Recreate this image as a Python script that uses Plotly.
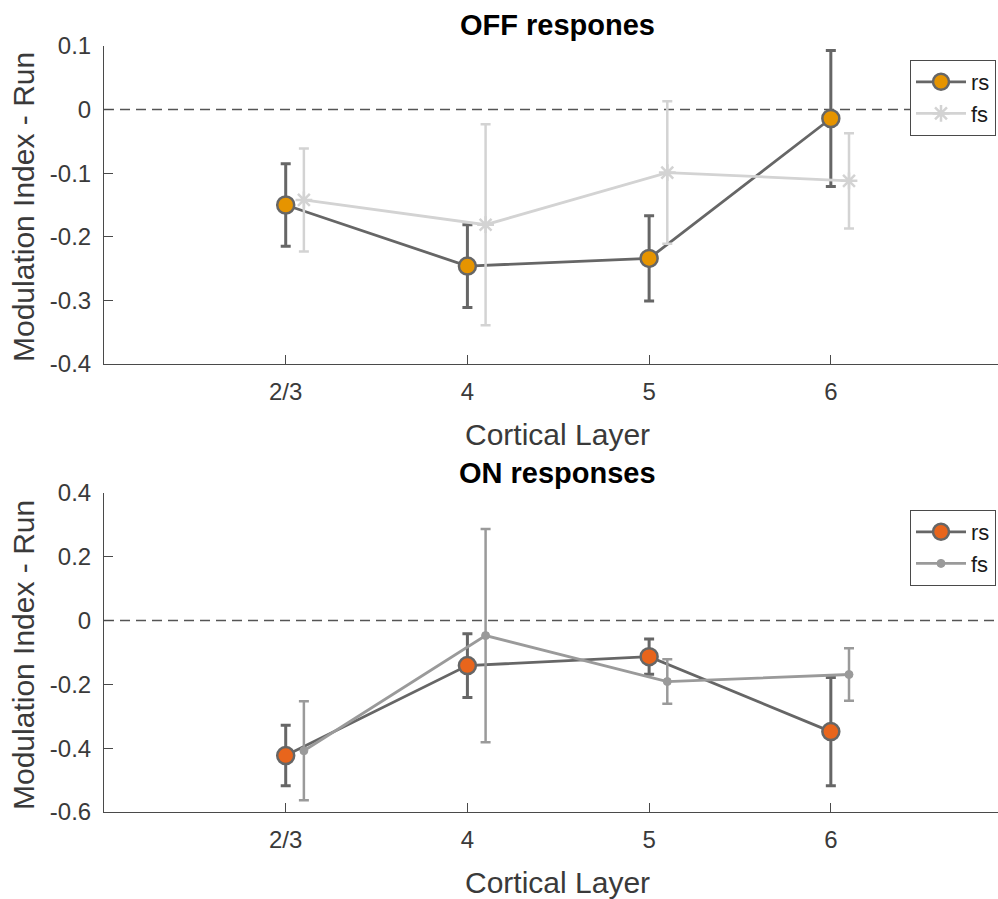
import plotly.graph_objects as go

# Cortical layers (x positions 1..4); fs points are nudged right by 0.1
layers = ["2/3", "4", "5", "6"]
layer_pos = [1, 2, 3, 4]
fs_offset = 0.1

# OFF responses
off_rs_mean = [-0.150, -0.246, -0.234, -0.014]
off_rs_err = [0.065, 0.065, 0.067, 0.107]
off_fs_mean = [-0.142, -0.181, -0.099, -0.112]
off_fs_err = [0.081, 0.158, 0.112, 0.075]

# ON responses
on_rs_mean = [-0.423, -0.141, -0.113, -0.348]
on_rs_err = [0.095, 0.100, 0.055, 0.170]
on_fs_mean = [-0.408, -0.047, -0.191, -0.169]
on_fs_err = [0.155, 0.334, 0.070, 0.082]

off_yticks = [0.1, 0, -0.1, -0.2, -0.3, -0.4]
off_yticklabels = ["0.1", "0", "-0.1", "-0.2", "-0.3", "-0.4"]
on_yticks = [0.4, 0.2, 0, -0.2, -0.4, -0.6]
on_yticklabels = ["0.4", "0.2", "0", "-0.2", "-0.4", "-0.6"]

W, H = 998, 899
L = 104
FONT = "Liberation Sans, Arial, sans-serif"
TXT = "#3a3a3a"
RS_LINE = "#666666"
OFF_RS_FACE = "#E69400"
ON_RS_FACE = "#E8651C"
OFF_FS = "#D3D3D3"
ON_FS = "#9A9A9A"


def py(p):
    """pixel row -> paper fraction"""
    return 1 - p / H


def px(p):
    """pixel column -> paper fraction"""
    return (p - L) / (W - L)


fs_pos = [p + fs_offset for p in layer_pos]

fig = go.Figure()

# --- OFF panel ---
fig.add_trace(go.Scatter(
    x=layer_pos, y=off_rs_mean, name="rs", legend="legend",
    xaxis="x", yaxis="y",
    mode="lines+markers",
    line=dict(color=RS_LINE, width=2.8),
    marker=dict(symbol="circle", size=17, color=OFF_RS_FACE,
                line=dict(color=RS_LINE, width=2.5)),
    error_y=dict(type="data", array=off_rs_err, color=RS_LINE,
                 thickness=3, width=5),
))
fig.add_trace(go.Scatter(
    x=fs_pos, y=off_fs_mean, name="fs", legend="legend",
    xaxis="x", yaxis="y",
    mode="lines+markers",
    line=dict(color=OFF_FS, width=2.8),
    marker=dict(symbol="asterisk-open", size=14,
                line=dict(color=OFF_FS, width=2.5)),
    error_y=dict(type="data", array=off_fs_err, color=OFF_FS,
                 thickness=2.5, width=5),
))

# --- ON panel ---
fig.add_trace(go.Scatter(
    x=layer_pos, y=on_rs_mean, name="rs", legend="legend2",
    xaxis="x2", yaxis="y2",
    mode="lines+markers",
    line=dict(color=RS_LINE, width=2.8),
    marker=dict(symbol="circle", size=17, color=ON_RS_FACE,
                line=dict(color=RS_LINE, width=2.5)),
    error_y=dict(type="data", array=on_rs_err, color=RS_LINE,
                 thickness=3, width=5),
))
fig.add_trace(go.Scatter(
    x=fs_pos, y=on_fs_mean, name="fs", legend="legend2",
    xaxis="x2", yaxis="y2",
    mode="lines+markers",
    line=dict(color=ON_FS, width=2.8),
    marker=dict(symbol="circle", size=8, color=ON_FS,
                line=dict(color=ON_FS, width=1)),
    error_y=dict(type="data", array=on_fs_err, color=ON_FS,
                 thickness=2.5, width=5),
))

XRANGE = [0, 4.92]
axis_common = dict(
    showline=True, linecolor="#4a4a4a", linewidth=1,
    ticks="inside", ticklen=9, tickcolor="#4a4a4a", tickwidth=1,
    showgrid=False, zeroline=False, automargin=False,
    tickfont=dict(family=FONT, size=24, color=TXT),
)

legend_common = dict(
    xanchor="left", yanchor="top",
    bgcolor="white", bordercolor="#4a4a4a", borderwidth=1,
    font=dict(family=FONT, size=22, color="#1a1a1a"),
    itemwidth=50, tracegroupgap=0,
)

ZERO_LINE = dict(color="#555555", width=1.5, dash="10px,6px")

fig.update_layout(
    width=W, height=H,
    margin=dict(l=L, r=0, t=0, b=0, autoexpand=False),
    paper_bgcolor="white", plot_bgcolor="white",
    font=dict(family=FONT, color=TXT),
    xaxis=dict(domain=[0, 1], anchor="y", range=XRANGE,
               tickvals=layer_pos, ticktext=layers,
               ticklabelstandoff=6, **axis_common),
    yaxis=dict(domain=[py(364), py(46)], anchor="x", range=[-0.4, 0.1],
               tickvals=off_yticks, ticktext=off_yticklabels,
               ticklabelstandoff=7, **axis_common),
    xaxis2=dict(domain=[0, 1], anchor="y2", range=XRANGE,
                tickvals=layer_pos, ticktext=layers,
                ticklabelstandoff=6, **axis_common),
    yaxis2=dict(domain=[py(812), py(493)], anchor="x2", range=[-0.6, 0.4],
                tickvals=on_yticks, ticktext=on_yticklabels,
                ticklabelstandoff=7, **axis_common),
    legend=dict(x=px(910), y=py(60), **legend_common),
    legend2=dict(x=px(910), y=py(510), **legend_common),
    shapes=[
        dict(type="line", xref="x", yref="y", x0=XRANGE[0], x1=XRANGE[1],
             y0=0, y1=0, line=ZERO_LINE, layer="below"),
        dict(type="line", xref="x2", yref="y2", x0=XRANGE[0], x1=XRANGE[1],
             y0=0, y1=0, line=ZERO_LINE, layer="below"),
    ],
)

cx = px(557)
annotations = [
    dict(text="<b>OFF respones</b>", x=cx, y=py(25), font=dict(size=29, color="black")),
    dict(text="<b>ON responses</b>", x=cx, y=py(473), font=dict(size=29, color="black")),
    dict(text="Cortical Layer", x=cx, y=py(434), font=dict(size=30, color=TXT)),
    dict(text="Cortical Layer", x=cx, y=py(882), font=dict(size=30, color=TXT)),
    dict(text="Modulation Index - Run", x=px(23), y=py(207), textangle=-90,
         font=dict(size=30, color=TXT)),
    dict(text="Modulation Index - Run", x=px(23), y=py(655), textangle=-90,
         font=dict(size=30, color=TXT)),
]
for a in annotations:
    a.update(xref="paper", yref="paper", showarrow=False,
             xanchor="center", yanchor="middle")
    a["font"]["family"] = FONT
fig.update_layout(annotations=annotations)

fig.write_html("out.html")
